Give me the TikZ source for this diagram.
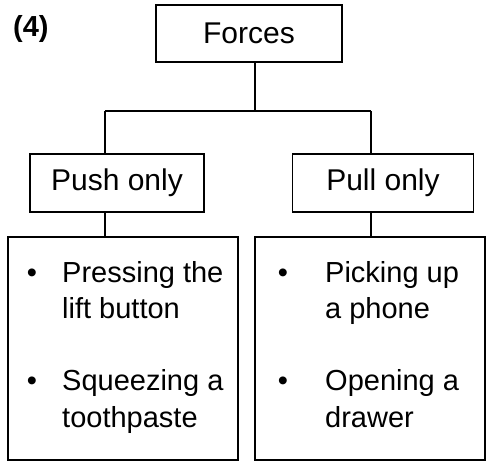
\documentclass[tikz,border=0pt]{standalone}
\usepackage{fontspec}
\setmainfont{Liberation Sans}
\begin{document}
\begin{tikzpicture}[x=1pt,y=-1pt,
  box/.style={draw, line width=1.6pt, inner sep=0pt},
  link/.style={line width=1.6pt},
  big/.style={font=\fontsize{30}{36}\selectfont},
  item/.style={font=\fontsize{29}{36}\selectfont, anchor=base west, inner sep=0pt},
  dot/.style={font=\fontsize{29}{36}\selectfont, anchor=base, inner sep=0pt}]
  \useasboundingbox (0,0) rectangle (490,465);

  % label
  \node[font=\fontsize{29}{36}\selectfont\bfseries, anchor=base west, inner sep=0pt] (lbl) at (13,37) {(4)};

  % boxes
  \node[box, big, minimum width=186pt, minimum height=57pt] (forces) at (249,33.5) {Forces};
  \node[box, big, minimum width=174pt, minimum height=58pt] (push) at (117,183) {Push only};
  \node[box, big, minimum width=181pt, minimum height=58pt] (pull) at (383,183) {Pull only};
  \node[box, minimum width=230pt, minimum height=223pt] (lbox) at (123,348.5) {};
  \node[box, minimum width=230pt, minimum height=223pt] (rbox) at (370,348.5) {};

  % junctions
  \coordinate (j)  at (255,111);
  \coordinate (jL) at (105,111);
  \coordinate (jR) at (371,111);

  % connectors
  \draw[link] (forces.south -| j) -- (j);
  \draw[link] (jL) -- (jR);
  \draw[link] (jL) -- (push.north -| jL);
  \draw[link] (jR) -- (pull.north -| jR);
  \draw[link] (push.south -| jL) -- (lbox.north -| jL);
  \draw[link] (pull.south -| jR) -- (rbox.north -| jR);

  % push examples
  \node[dot] (b1) at (32,282) {\textbullet};
  \node[item] (t1) at (62,282) {Pressing the};
  \node[item] (t2) at (62,318) {lift button};
  \node[dot] (b2) at (32,390) {\textbullet};
  \node[item] (t3) at (62,390) {Squeezing a};
  \node[item] (t4) at (62,427) {toothpaste};

  % pull examples
  \node[dot] (b3) at (283,282) {\textbullet};
  \node[item] (t5) at (325,282) {Picking up};
  \node[item] (t6) at (325,318) {a phone};
  \node[dot] (b4) at (283,390) {\textbullet};
  \node[item] (t7) at (325,390) {Opening a};
  \node[item] (t8) at (325,427) {drawer};
\end{tikzpicture}
\end{document}
